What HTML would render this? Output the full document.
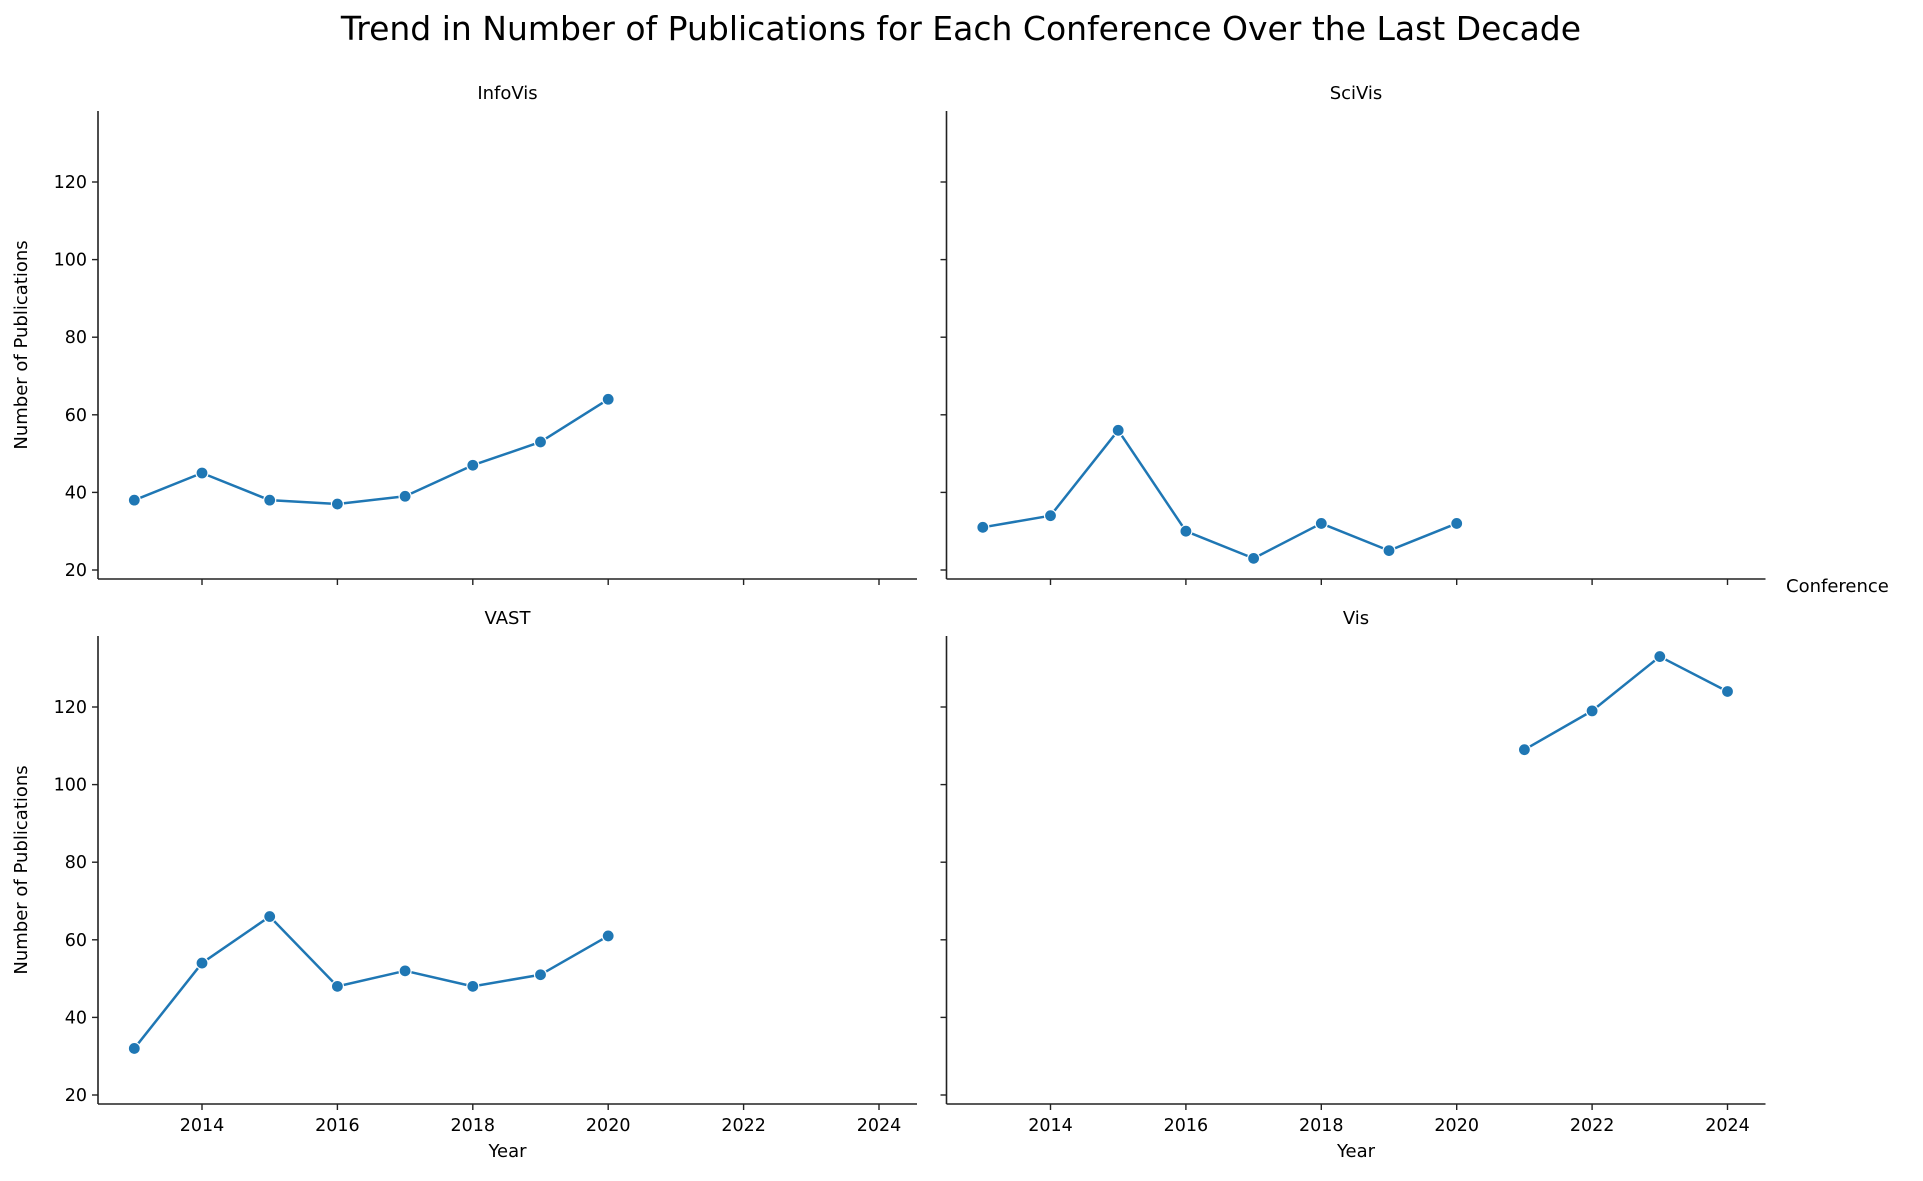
<!DOCTYPE html>
<html><head><meta charset="utf-8"><style>
html,body{margin:0;padding:0;background:#fff;}
svg{display:block;font-family:"DejaVu Sans","Liberation Sans",sans-serif;}
</style></head><body>
<svg id="chart" width="1923" height="1181" viewBox="0 0 1923 1181">
<text x="961" y="40" text-anchor="middle" font-size="33" fill="#000">Trend in Number of Publications for Each Conference Over the Last Decade</text>
<text x="1786" y="592" font-size="18" fill="#000">Conference</text>
<g id="panels"></g>
</svg>
<script>
const conferences = ["InfoVis", "SciVis", "VAST", "Vis"];
const infovisYears = [2013,2014,2015,2016,2017,2018,2019,2020];
const infovisValues = [38,45,38,37,39,47,53,64];
const scivisYears = [2013,2014,2015,2016,2017,2018,2019,2020];
const scivisValues = [31,34,56,30,23,32,25,32];
const vastYears = [2013,2014,2015,2016,2017,2018,2019,2020];
const vastValues = [32,54,66,48,52,48,51,61];
const visYears = [2021,2022,2023,2024];
const visValues = [109,119,133,124];
const xTicks = [2014,2016,2018,2020,2022,2024];
const yTicks = [20,40,60,80,100,120];

const NS = "http://www.w3.org/2000/svg";
const g = document.getElementById("panels");
function mk(tag, attrs, parent){const e=document.createElementNS(NS,tag);for(const k in attrs)e.setAttribute(k,attrs[k]);(parent||g).appendChild(e);return e;}
const panels = [
  {name:"InfoVis", years:infovisYears, vals:infovisValues, col:0,row:0},
  {name:"SciVis", years:scivisYears, vals:scivisValues, col:1,row:0},
  {name:"VAST", years:vastYears, vals:vastValues, col:0,row:1},
  {name:"Vis", years:visYears, vals:visValues, col:1,row:1}
];
panels.forEach(p=>{
  const dx = p.col*848.5, dy = p.row*525;
  const left = 98+dx, right = 917+dx, top = 111+dy, bottom = 579+dy;
  const xs = y => 202 + dx + (y-2014)*67.7;
  const ys = v => 570 + dy - (v-20)*3.88;
  const pg = mk("g",{});
  
  
  const t = mk("text",{x:(left+right)/2,y:top-12,"text-anchor":"middle","font-size":"18",fill:"#000"},pg);
  t.textContent = p.name;
  
  
  const ya = mk("line",{x1:left,y1:top,x2:left,y2:bottom,stroke:"#222","stroke-width":"1.6"},pg);
  
  
  const xa = mk("line",{x1:left,y1:bottom,x2:right,y2:bottom,stroke:"#222","stroke-width":"1.6"},pg);
  
  
  yTicks.forEach(v=>{
    mk("line",{x1:left-6,y1:ys(v),x2:left,y2:ys(v),stroke:"#222","stroke-width":"1.4"},pg);
    if(p.col===0){
      const tl = mk("text",{x:left-11,y:ys(v)+6,"text-anchor":"end","font-size":"17.5",fill:"#000"},pg);
      tl.textContent = v;
      
      
    }
  });
  xTicks.forEach(y=>{
    mk("line",{x1:xs(y),y1:bottom,x2:xs(y),y2:bottom+6,stroke:"#222","stroke-width":"1.4"},pg);
    if(p.row===1){
      const tl = mk("text",{x:xs(y),y:bottom+27,"text-anchor":"middle","font-size":"17.5",fill:"#000"},pg);
      tl.textContent = y;
      
      
    }
  });
  if(p.col===0){
    const yl = mk("text",{x:0,y:0,transform:`translate(27,${(top+bottom)/2}) rotate(-90)`,"text-anchor":"middle","font-size":"18",fill:"#000"},pg);
    yl.textContent = "Number of Publications";
    
    
  }
  if(p.row===1){
    const xl = mk("text",{x:(left+right)/2,y:bottom+53,"text-anchor":"middle","font-size":"18",fill:"#000"},pg);
    xl.textContent = "Year";
    
    
  }
  const pts = p.years.map((y,i)=>xs(y)+","+ys(p.vals[i])).join(" ");
  const line = mk("polyline",{points:pts,fill:"none",stroke:"#1f77b4","stroke-width":"2.5","stroke-linejoin":"round"},pg);
  
  
  p.years.forEach((y,i)=>{
    const c = mk("circle",{cx:xs(y),cy:ys(p.vals[i]),r:"6",fill:"#1f77b4",stroke:"#fff","stroke-width":"1.2"},pg);
    
    
  });
});
</script>
</body></html>
